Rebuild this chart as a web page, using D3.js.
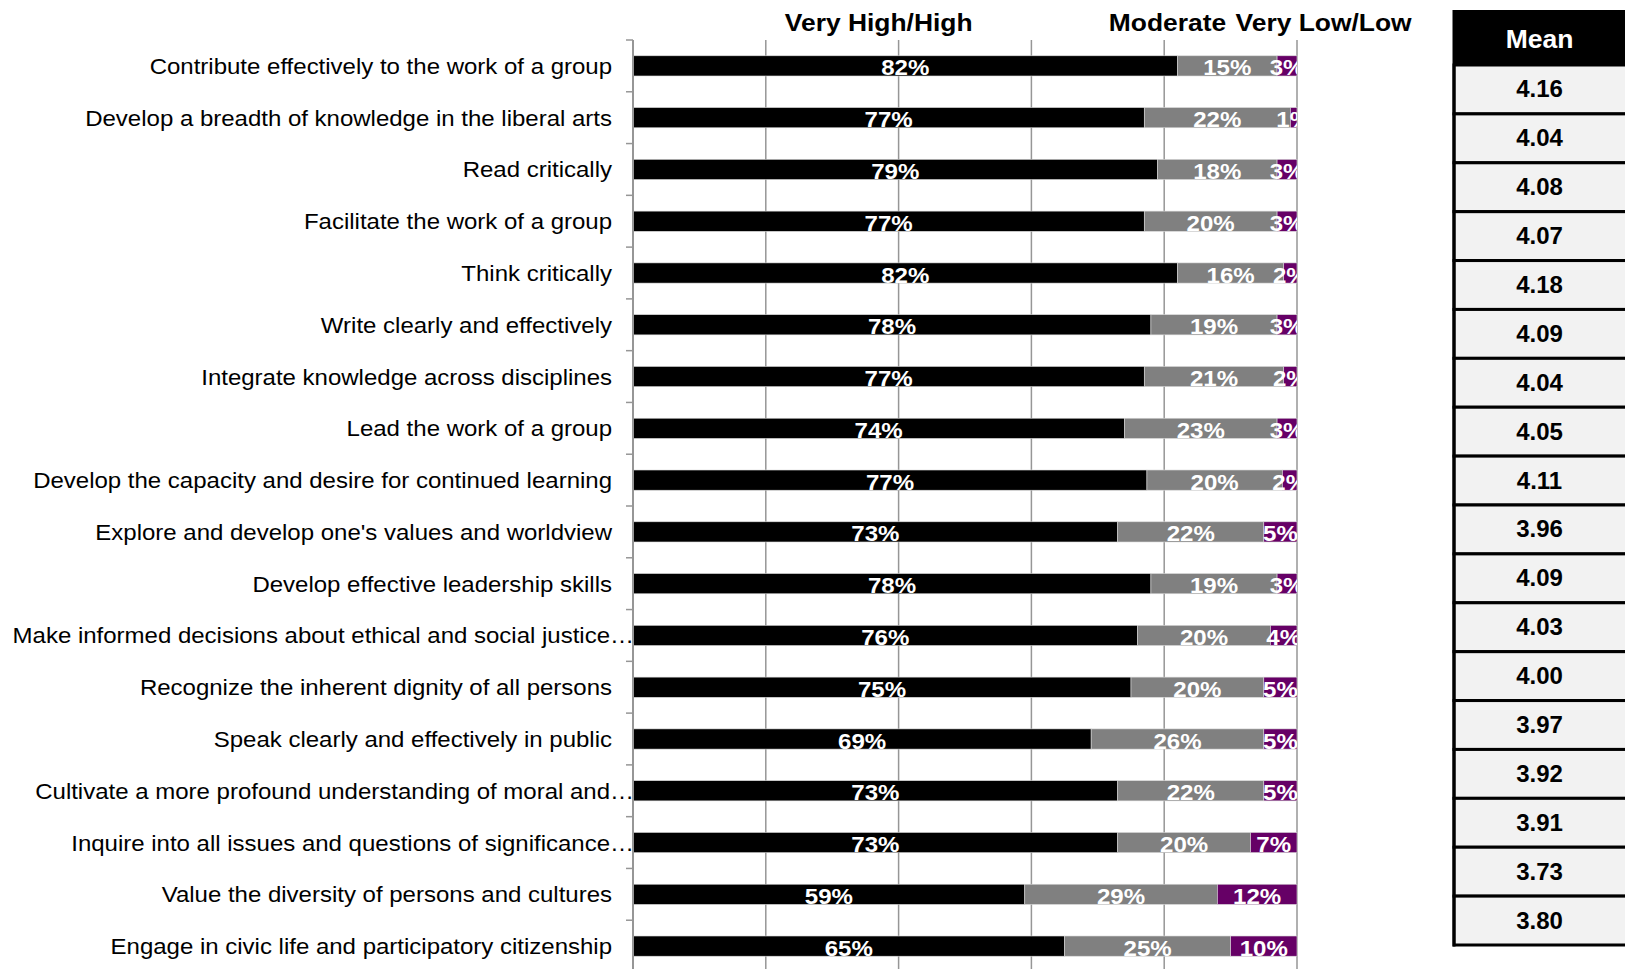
<!DOCTYPE html>
<html>
<head>
<meta charset="utf-8">
<script src="https://cdn.jsdelivr.net/npm/d3@7"></script>
<style>
  html, body { margin: 0; padding: 0; background: #fff; }
  svg { display: block; font-family: "Liberation Sans", Arial, sans-serif; }
</style>
</head>
<body>
<svg id="chart" width="1625" height="969"></svg>
<script>
// ---- data ----
const categories = [
  "Contribute effectively to the work of a group",
  "Develop a breadth of knowledge in the liberal arts",
  "Read critically",
  "Facilitate the work of a group",
  "Think critically",
  "Write clearly and effectively",
  "Integrate knowledge across disciplines",
  "Lead the work of a group",
  "Develop the capacity and desire for continued learning",
  "Explore and develop one's values and worldview",
  "Develop effective leadership skills",
  "Make informed decisions about ethical and social justice…",
  "Recognize the inherent dignity of all persons",
  "Speak clearly and effectively in public",
  "Cultivate a more profound understanding of moral and…",
  "Inquire into all issues and questions of significance…",
  "Value the diversity of persons and cultures",
  "Engage in civic life and participatory citizenship"
];
const veryHighHigh = [82, 77, 79, 77, 82, 78, 77, 74, 77.4, 73, 78, 76, 75, 69, 73, 73, 59, 65];
const moderate     = [15, 22, 18, 20, 16, 19, 21, 23, 20.4, 22, 19, 20, 20, 26, 22, 20, 29, 25];
const veryLowLow   = [3, 1, 3, 3, 2, 3, 2, 3, 2.2, 5, 3, 4, 5, 5, 5, 7, 12, 10];
const means = ["4.16", "4.04", "4.08", "4.07", "4.18", "4.09", "4.04", "4.05", "4.11",
               "3.96", "4.09", "4.03", "4.00", "3.97", "3.92", "3.91", "3.73", "3.80"];
const seriesNames = ["Very High/High", "Moderate", "Very Low/Low"];
const seriesColors = ["#000000", "#808080", "#660066"];
const gridTicks = [0, 20, 40, 60, 80, 100];
const tableHeader = "Mean";

// ---- layout ----
const svg = d3.select("#chart");
const plotLeft = 633, plotRight = 1297, plotTop = 40, plotBottom = 972;

const x = d3.scaleLinear().domain([0, 100]).range([plotLeft, plotRight]);
const y = d3.scaleBand().domain(categories).range([plotTop, plotBottom]).paddingInner(0.61).paddingOuter(0.305);
const yStep = d3.scaleBand().domain(categories).range([plotTop, plotBottom]);

const rows = categories.map((c, i) => {
  const vals = [veryHighHigh[i], moderate[i], veryLowLow[i]];
  let acc = 0;
  return { cat: c, segs: vals.map((v, k) => { const s = { k, v, x0: acc, x1: acc + v }; acc += v; return s; }) };
});

// gridlines
svg.append("g").selectAll("line").data(gridTicks.slice(1)).join("line")
  .attr("x1", d => x(d)).attr("x2", d => x(d))
  .attr("y1", plotTop).attr("y2", 969)
  .attr("stroke", "#969696").attr("stroke-width", 1.5);

// clip
svg.append("clipPath").attr("id", "plotclip").append("rect")
  .attr("x", x(0)).attr("y", 0).attr("width", x(100) - x(0)).attr("height", 969);

// bars
const barG = svg.append("g");
rows.forEach(r => {
  barG.selectAll(null).data(r.segs).join("rect")
    .attr("x", d => x(d.x0)).attr("width", d => x(d.x1) - x(d.x0))
    .attr("y", y(r.cat)).attr("height", y.bandwidth())
    .attr("fill", d => seriesColors[d.k])
    .attr("stroke", "#d9d9d9").attr("stroke-width", 0.6);
});

// value labels
const labG = svg.append("g").attr("clip-path", "url(#plotclip)");
rows.forEach(r => {
  labG.selectAll(null).data(r.segs).join("text")
    .attr("transform", d => `translate(${(x(d.x0) + x(d.x1)) / 2},${y(r.cat) + y.bandwidth() - 0.5}) scale(1.12,1)`)
    .attr("text-anchor", "middle")
    .attr("font-weight", "bold").attr("font-size", 21.5)
    .attr("fill", "#fff")
    .text(d => Math.round(d.v) + "%");
});

// y axis
const yAxisG = svg.append("g");
yAxisG.append("line").attr("x1", plotLeft).attr("x2", plotLeft)
  .attr("y1", plotTop).attr("y2", 969).attr("stroke", "#969696").attr("stroke-width", 2);
yAxisG.selectAll("line.tick").data(categories).join("line").attr("class", "tick")
  .attr("x1", plotLeft - 7).attr("x2", plotLeft)
  .attr("y1", d => yStep(d)).attr("y2", d => yStep(d))
  .attr("stroke", "#969696").attr("stroke-width", 1.5);
yAxisG.selectAll("text").data(categories).join("text")
  .attr("transform", d => `translate(${d.endsWith("…") ? plotLeft + 1 : plotLeft - 21},${y(d) + y.bandwidth() / 2 + 8}) scale(1.067,1)`)
  .attr("text-anchor", "end").attr("font-size", 22.5).attr("fill", "#000")
  .text(d => d);

// series header
const headerPos = [37, 80.5, 104];
svg.append("g").selectAll("text").data(seriesNames).join("text")
  .attr("transform", (d, i) => `translate(${x(headerPos[i])},31) scale(1.1,1)`)
  .attr("text-anchor", "middle").attr("font-weight", "bold").attr("font-size", 24)
  .attr("fill", "#000").text(d => d);

// mean table
const tLeft = 1454, tRight = 1640, tTop = 10, tHeadBottom = 65, tBottom = 945;
const ty = d3.scaleBand().domain(categories).range([tHeadBottom, tBottom]);
const tg = svg.append("g");
tg.append("rect").attr("x", tLeft).attr("y", tTop).attr("width", tRight - tLeft).attr("height", tHeadBottom - tTop).attr("fill", "#000");
tg.append("text").attr("x", (tLeft + 1625) / 2).attr("y", 48).attr("text-anchor", "middle")
  .attr("font-weight", "bold").attr("font-size", 26.5).attr("fill", "#fff").text(tableHeader);
tg.selectAll("rect.row").data(categories).join("rect").attr("class", "row")
  .attr("x", tLeft).attr("y", d => ty(d)).attr("width", tRight - tLeft).attr("height", ty.bandwidth())
  .attr("fill", "#f2f2f2").attr("stroke", "#000").attr("stroke-width", 3);
tg.selectAll("text.mean").data(categories).join("text").attr("class", "mean")
  .attr("x", (tLeft + 1625) / 2).attr("y", d => ty(d) + ty.bandwidth() / 2 + 8)
  .attr("text-anchor", "middle").attr("font-weight", "bold").attr("font-size", 24).attr("fill", "#000")
  .text((d, i) => means[i]);
tg.append("line").attr("x1", tLeft).attr("x2", tLeft).attr("y1", tTop).attr("y2", tBottom + 1.5)
  .attr("stroke", "#000").attr("stroke-width", 3);
</script>
</body>
</html>
